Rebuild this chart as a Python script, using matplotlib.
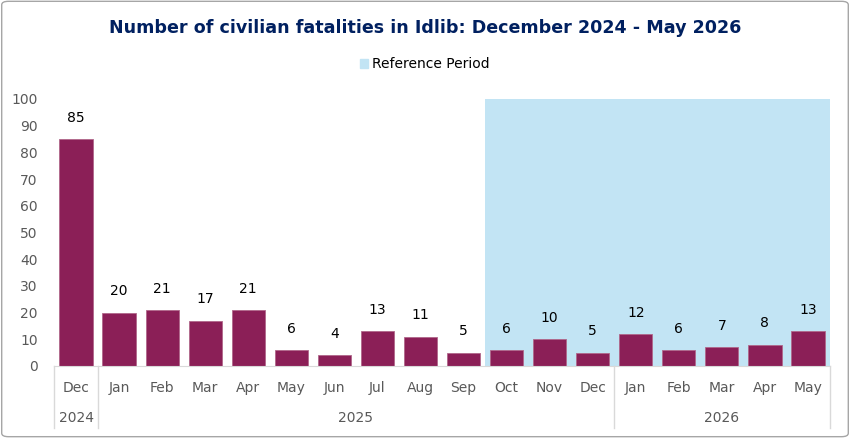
import numpy as np
import matplotlib.pyplot as plt
from matplotlib.patches import FancyBboxPatch, Patch

# datos
meses = ['Dec', 'Jan', 'Feb', 'Mar', 'Apr', 'May', 'Jun', 'Jul', 'Aug', 'Sep',
         'Oct', 'Nov', 'Dec', 'Jan', 'Feb', 'Mar', 'Apr', 'May']
victimas = [85, 20, 21, 17, 21, 6, 4, 13, 11, 5, 6, 10, 5, 12, 6, 7, 8, 13]
anios = ['2024', '2025', '2026']
anio_inicio = [0, 1, 13]   # primer mes de cada año
periodo_ref = (10, 17)     # Oct 2025 - May 2026

color_barra = '#8B1F57'
color_ref = '#C2E4F4'
gris = '#595959'

fig = plt.figure(figsize=(8.5, 4.38), dpi=100)
ax = fig.add_axes([0.0641, 0.1644, 0.9118, 0.6096])

x = np.arange(len(meses))

# zona de referencia
ax.axvspan(periodo_ref[0] - 0.5, periodo_ref[1] + 0.5, ymin=0, ymax=1,
           color=color_ref, lw=0, zorder=0)

ax.bar(x, victimas, width=0.77, color=color_barra, edgecolor='#B0678A', lw=0.6, zorder=2)
for xi, v in zip(x, victimas):
    ax.text(xi, v + 5.3, str(v), ha='center', va='bottom', fontsize=10, color='black')

ax.set_xlim(-0.5, len(meses) - 0.5)
ax.set_ylim(0, 100)
ax.set_yticks(range(0, 101, 10))
ax.tick_params(axis='y', length=0, labelsize=10, labelcolor=gris, pad=12)
ax.set_xticks([])

for lado in ['top', 'right', 'left']:
    ax.spines[lado].set_visible(False)
ax.spines['bottom'].set_color('#D9D9D9')

# eje x de dos niveles
tr = ax.get_xaxis_transform()
for xi, m in zip(x, meses):
    ax.text(xi, -0.082, m, transform=tr, ha='center', va='center', fontsize=10, color=gris)

limites = anio_inicio + [len(meses)]
for i, a in enumerate(anios):
    centro = (limites[i] + limites[i + 1] - 1) / 2
    ax.text(centro, -0.195, a, transform=tr, ha='center', va='center', fontsize=10, color=gris)
for b in limites:
    ax.plot([b - 0.5, b - 0.5], [0, -0.232], transform=tr, color='#D9D9D9',
            lw=1, clip_on=False)

fig.text(0.5, 0.935, 'Number of civilian fatalities in Idlib: December 2024 - May 2026',
         ha='center', va='center', fontsize=12.6, fontweight='bold', color='#002060')

fig.legend(handles=[Patch(color=color_ref, label='Reference Period')],
           loc='center', bbox_to_anchor=(0.5, 0.853), frameon=False, fontsize=10,
           handlelength=0.6, handleheight=0.6, handletextpad=0.3)

borde = FancyBboxPatch((0.002, 0.003), 0.996, 0.994, boxstyle='round,pad=0,rounding_size=0.008',
                       transform=fig.transFigure, fill=False, edgecolor='#A6A6A6', lw=1)
fig.patches.append(borde)

plt.savefig('out.png', dpi=100)
